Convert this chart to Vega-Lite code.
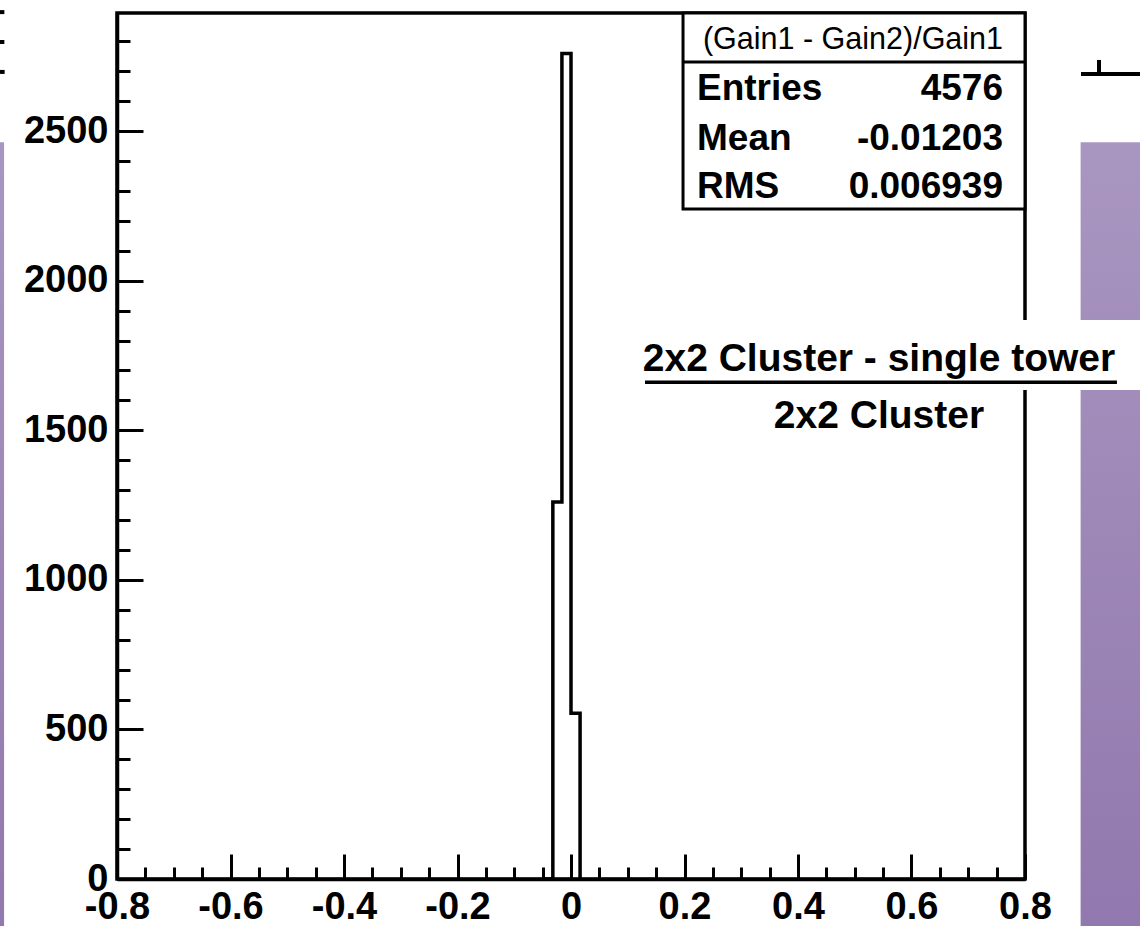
{
  "$schema": "https://vega.github.io/schema/vega-lite/v6.json",
  "width": 908,
  "height": 866,
  "autosize": "none",
  "padding": {"left": 117, "top": 13, "right": 115, "bottom": 47},
  "background": "white",
  "config": {
    "view": {"stroke": "black", "strokeWidth": 3.5},
    "font": "Liberation Sans",
    "axis": {"labelOverlap": false, "labelBound": false, "labelFlush": false}
  },
  "datasets": {
    "hist": [
      {"lo": -0.048, "count": 0},
      {"lo": -0.032, "count": 1260},
      {"lo": -0.016, "count": 2760},
      {"lo": 0, "count": 554},
      {"lo": 0.016, "count": 0}
    ],
    "stats": [
      {"name": "Entries", "value": "4576"},
      {"name": "Mean", "value": "-0.01203"},
      {"name": "RMS", "value": "0.006939"}
    ],
    "one": [{}]
  },
  "layer": [
    {
      "data": {"name": "hist"},
      "mark": {"type": "line", "interpolate": "step-after", "color": "black", "strokeWidth": 3.5},
      "encoding": {
        "x": {
          "field": "lo", "type": "quantitative",
          "scale": {"domain": [-0.8, 0.8], "nice": false, "zero": false},
          "axis": {
            "title": null,
            "grid": false,
            "tickCount": 200,
            "values": [-0.8,-0.75,-0.7,-0.65,-0.6,-0.55,-0.5,-0.45,-0.4,-0.35,-0.3,-0.25,-0.2,-0.15,-0.1,-0.05,0,0.05,0.1,0.15,0.2,0.25,0.3,0.35,0.4,0.45,0.5,0.55,0.6,0.65,0.7,0.75,0.8],
            "domainColor": "black", "domainWidth": 3.5,
            "tickColor": "black", "tickWidth": 3,
            "tickSize": {"condition": {"test": "abs(round(datum.value*20)) % 4 == 0", "value": -25}, "value": -12},
            "labelPadding": 34,
            "labelExpr": "abs(round(datum.value*20)) % 4 == 0 ? '' + datum.value : ''",
            "labelFont": "Liberation Sans", "labelFontWeight": "bold", "labelFontSize": 38,
            "labelColor": "black", "labelOverlap": false, "labelFlush": false, "labelBound": false
          }
        },
        "y": {
          "field": "count", "type": "quantitative",
          "scale": {"domain": [0, 2895], "nice": false, "zero": false},
          "axis": {
            "title": null,
            "grid": false,
            "tickCount": 200,
            "values": [0,100,200,300,400,500,600,700,800,900,1000,1100,1200,1300,1400,1500,1600,1700,1800,1900,2000,2100,2200,2300,2400,2500,2600,2700,2800],
            "domainColor": "black", "domainWidth": 3.5,
            "tickColor": "black", "tickWidth": 3,
            "tickSize": {"condition": {"test": "datum.value % 500 == 0", "value": -26}, "value": -13},
            "labelPadding": 35,
            "labelExpr": "datum.value % 500 == 0 ? '' + datum.value : ''",
            "labelFont": "Liberation Sans", "labelFontWeight": "bold", "labelFontSize": 38,
            "labelColor": "black", "labelOverlap": false, "labelFlush": false, "labelBound": false
          }
        }
      }
    },
    {
      "data": {"name": "one"},
      "mark": {"type": "rect", "color": {"gradient": "linear", "x1": 0, "y1": 0, "x2": 0, "y2": 1, "stops": [{"offset": 0, "color": "#a996c0"}, {"offset": 1, "color": "#9178ae"}]}},
      "encoding": {
        "x": {"datum": -1.01}, "x2": {"datum": -0.999},
        "y": {"datum": 2463}, "y2": {"datum": -170}
      }
    },
    {
      "data": {"name": "one"},
      "mark": {"type": "rect", "color": {"gradient": "linear", "x1": 0, "y1": 0, "x2": 0, "y2": 1, "stops": [{"offset": 0, "color": "#a996c0"}, {"offset": 1, "color": "#9178ae"}]}},
      "encoding": {
        "x": {"datum": 0.898}, "x2": {"datum": 1.01},
        "y": {"datum": 2463}, "y2": {"datum": -170}
      }
    },
    {
      "data": {"name": "one"},
      "mark": {"type": "rect", "color": "white"},
      "encoding": {
        "x": {"datum": 0.5}, "x2": {"datum": 1.01},
        "y": {"datum": 1869}, "y2": {"datum": 1635}
      }
    },
    {
      "data": {"name": "one"},
      "mark": {"type": "rule", "color": "black", "strokeWidth": 4},
      "encoding": {"x": {"datum": 0.8987}, "x2": {"datum": 1.01}, "y": {"datum": 2691}}
    },
    {
      "data": {"name": "one"},
      "mark": {"type": "rule", "color": "black", "strokeWidth": 4},
      "encoding": {"x": {"datum": 0.9304}, "y": {"datum": 2738}, "y2": {"datum": 2691}}
    },
    {
      "data": {"name": "one"},
      "mark": {"type": "rule", "color": "black", "strokeWidth": 4},
      "encoding": {"x": {"datum": -1.01}, "x2": {"datum": -0.9985}, "y": {"datum": 2898}}
    },
    {
      "data": {"name": "one"},
      "mark": {"type": "rule", "color": "black", "strokeWidth": 4},
      "encoding": {"x": {"datum": -1.01}, "x2": {"datum": -0.9985}, "y": {"datum": 2798}}
    },
    {
      "data": {"name": "one"},
      "mark": {"type": "rule", "color": "black", "strokeWidth": 4},
      "encoding": {"x": {"datum": -1.01}, "x2": {"datum": -0.998}, "y": {"datum": 2698}}
    },
    {
      "data": {"name": "one"},
      "mark": {"type": "rect", "fill": "white", "stroke": "black", "strokeWidth": 3},
      "encoding": {
        "x": {"datum": 0.1974}, "x2": {"datum": 0.8},
        "y": {"datum": 2895}, "y2": {"datum": 2240}
      }
    },
    {
      "data": {"name": "one"},
      "mark": {"type": "rule", "color": "black", "strokeWidth": 3},
      "encoding": {"x": {"datum": 0.1974}, "x2": {"datum": 0.8}, "y": {"datum": 2731}}
    },
    {
      "data": {"name": "one"},
      "mark": {"type": "text", "font": "Liberation Sans", "fontSize": 30.5, "align": "center", "baseline": "alphabetic", "color": "black"},
      "encoding": {"x": {"datum": 0.4969}, "y": {"datum": 2774}, "text": {"value": "(Gain1 - Gain2)/Gain1"}}
    },
    {
      "data": {"name": "stats"},
      "transform": [{"filter": "datum.name == 'Entries'"}],
      "encoding": {"y": {"datum": 2604}},
      "layer": [
        {"mark": {"type": "text", "font": "Liberation Sans", "fontWeight": "bold", "fontSize": 37, "align": "left", "baseline": "alphabetic", "color": "black"},
         "encoding": {"x": {"datum": 0.222}, "text": {"field": "name"}}},
        {"mark": {"type": "text", "font": "Liberation Sans", "fontWeight": "bold", "fontSize": 37, "align": "right", "baseline": "alphabetic", "color": "black"},
         "encoding": {"x": {"datum": 0.7612}, "text": {"field": "value"}}}
      ]
    },
    {
      "data": {"name": "stats"},
      "transform": [{"filter": "datum.name == 'Mean'"}],
      "encoding": {"y": {"datum": 2437}},
      "layer": [
        {"mark": {"type": "text", "font": "Liberation Sans", "fontWeight": "bold", "fontSize": 37, "align": "left", "baseline": "alphabetic", "color": "black"},
         "encoding": {"x": {"datum": 0.222}, "text": {"field": "name"}}},
        {"mark": {"type": "text", "font": "Liberation Sans", "fontWeight": "bold", "fontSize": 37, "align": "right", "baseline": "alphabetic", "color": "black"},
         "encoding": {"x": {"datum": 0.7612}, "text": {"field": "value"}}}
      ]
    },
    {
      "data": {"name": "stats"},
      "transform": [{"filter": "datum.name == 'RMS'"}],
      "encoding": {"y": {"datum": 2276}},
      "layer": [
        {"mark": {"type": "text", "font": "Liberation Sans", "fontWeight": "bold", "fontSize": 37, "align": "left", "baseline": "alphabetic", "color": "black"},
         "encoding": {"x": {"datum": 0.222}, "text": {"field": "name"}}},
        {"mark": {"type": "text", "font": "Liberation Sans", "fontWeight": "bold", "fontSize": 37, "align": "right", "baseline": "alphabetic", "color": "black"},
         "encoding": {"x": {"datum": 0.7612}, "text": {"field": "value"}}}
      ]
    },
    {
      "data": {"name": "one"},
      "mark": {"type": "text", "font": "Liberation Sans", "fontWeight": "bold", "fontSize": 39, "align": "center", "baseline": "alphabetic", "color": "black"},
      "encoding": {"x": {"datum": 0.5427}, "y": {"datum": 1698}, "text": {"value": "2x2 Cluster - single tower"}}
    },
    {
      "data": {"name": "one"},
      "mark": {"type": "rule", "color": "black", "strokeWidth": 3.5},
      "encoding": {"x": {"datum": 0.1304}, "x2": {"datum": 0.962}, "y": {"datum": 1661}}
    },
    {
      "data": {"name": "one"},
      "mark": {"type": "text", "font": "Liberation Sans", "fontWeight": "bold", "fontSize": 39, "align": "center", "baseline": "alphabetic", "color": "black"},
      "encoding": {"x": {"datum": 0.5427}, "y": {"datum": 1507}, "text": {"value": "2x2 Cluster"}}
    }
  ]
}
